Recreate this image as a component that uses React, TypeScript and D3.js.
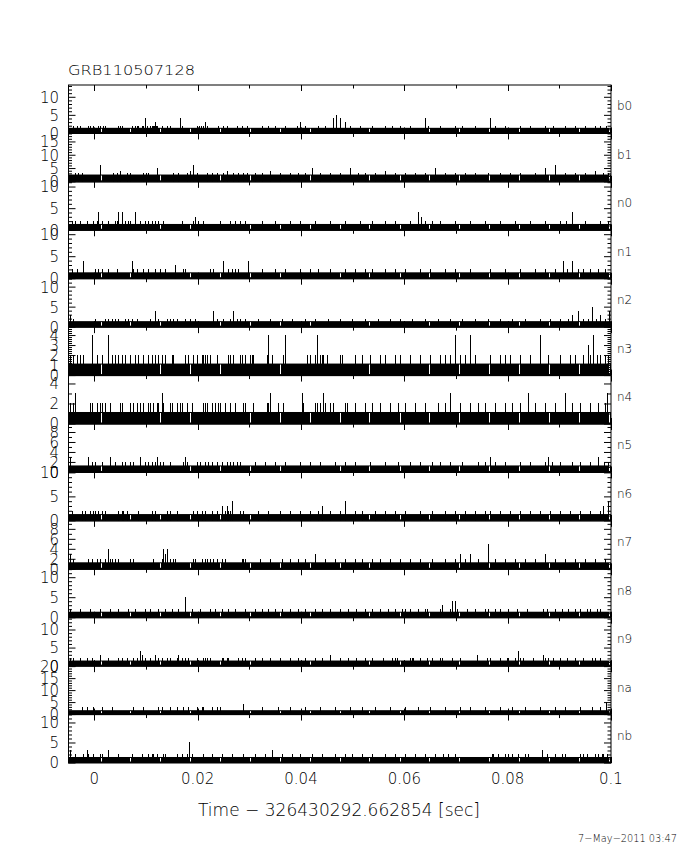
import * as d3 from "d3";

// GBM TTE count histograms, one panel per detector; times in ms after trigger
const detectors = ["b0", "b1", "n0", "n1", "n2", "n3", "n4", "n5", "n6", "n7", "n8", "n9", "na", "nb"];
const yMaxima = [13.4, 18.2, 11.2, 11.0, 12.1, 4.84, 4.84, 9.7, 10.1, 9.7, 12.1, 13.4, 20.2, 12.1];
const yMajorSteps = [5, 5, 5, 5, 5, 1, 2, 2, 5, 2, 5, 5, 5, 5];
const baseCounts = [1, 2, 1, 1, 1, 1, 1, 1, 1, 1, 1, 1, 1, 1];
const shortHeights = [2, 3, 2, 2, 2, 2, 2, 2, 2, 2, 2, 2, 3, 2];

const xTickValues = [0, 20, 40, 60, 80, 100];
const xTickLabels = ["0", "0.02", "0.04", "0.06", "0.08", "0.1"];
const bandGaps = [1.3, 6.9, 12.7, 18.5, 24.3, 30.1, 35.9, 41.7, 47.5, 53.2, 59.2, 64.8, 70.6, 76.4, 82.2, 88.0, 93.8, 99.6];

const b0Short = [-4.1, -3.3, -2.8, -1.2, -0.8, -0.3, 0.7, 1.1, 1.7, 2.1, 4.6, 5.0, 5.4, 7.3, 7.9, 8.3, 8.5, 9.2, 9.4, 10.2, 10.8, 11.2, 11.4, 11.6, 11.9, 12.1, 13.1, 14.1, 14.6, 17.0, 19.9, 20.3, 20.7, 21.0, 21.8, 23.9, 24.9, 25.7, 27.6, 28.6, 29.6, 32.4, 33.6, 34.9, 36.9, 39.2, 40.8, 43.3, 44.6, 49.5, 51.4, 53.8, 56.3, 57.6, 59.2, 61.1, 64.6, 66.9, 69.8, 71.2, 73.7, 77.6, 79.5, 82.4, 84.3, 87.2, 88.8, 91.1, 93.0, 95.0, 96.9, 97.9, 99.0];
const b0Tall: [number, number][] = [[9.8, 4], [11.7, 3], [16.6, 4], [21.4, 3], [39.8, 3], [46.2, 4], [46.8, 5], [47.5, 4], [48.5, 3], [64.0, 4], [76.6, 4]];

const b1Short = [-3.7, -3.2, -2.4, 3.6, 4.4, 6.3, 6.9, 9.4, 10.0, 10.4, 15.2, 16.2, 17.9, 19.9, 21.8, 22.8, 23.8, 24.9, 26.8, 27.8, 28.8, 29.6, 31.1, 32.4, 35.9, 37.9, 39.4, 40.8, 43.7, 45.6, 47.5, 51.0, 52.4, 54.3, 58.2, 60.1, 62.1, 64.0, 67.9, 69.8, 71.7, 73.7, 76.2, 78.5, 80.4, 82.4, 85.3, 91.1, 93.0, 95.0, 98.5, 99.4];
const b1Tall: [number, number][] = [[1.1, 6], [5.0, 4], [12.1, 5], [18.5, 4], [19.1, 6], [25.7, 4], [34.0, 4], [42.1, 5], [49.5, 5], [56.3, 4], [65.9, 5], [87.2, 5], [89.2, 6], [96.9, 4]];

const n0Short = [-4.3, -3.7, -2.8, -1.4, -0.3, 0.5, 1.5, 2.6, 4.0, 4.4, 5.9, 6.5, 6.9, 8.8, 9.8, 10.4, 11.2, 11.7, 12.3, 13.3, 17.0, 19.1, 20.1, 21.0, 24.3, 26.3, 27.2, 28.2, 29.2, 32.4, 34.9, 37.9, 39.8, 42.7, 45.6, 48.5, 51.4, 53.8, 56.3, 58.2, 61.1, 64.0, 65.4, 66.9, 69.8, 72.7, 75.6, 78.5, 81.4, 84.3, 87.2, 90.1, 91.3, 95.0, 97.9, 99.4];
const n0Tall: [number, number][] = [[0.7, 4], [4.6, 4], [5.4, 4], [7.9, 4], [19.5, 3], [62.6, 4], [63.2, 3], [92.4, 4]];

const n1Short = [-4.3, -3.3, 0.1, 0.7, 1.5, 2.6, 4.4, 7.5, 8.3, 9.4, 10.4, 11.7, 12.7, 13.7, 17.2, 17.6, 22.4, 23.0, 25.9, 26.7, 27.2, 27.8, 32.4, 34.9, 36.9, 39.8, 41.7, 43.3, 45.6, 48.5, 50.5, 52.4, 53.8, 56.3, 58.2, 60.1, 63.0, 65.0, 67.9, 69.8, 72.7, 76.6, 79.5, 82.4, 85.3, 87.2, 89.2, 91.5, 93.6, 94.6, 95.9, 97.5, 98.8];
const n1Tall: [number, number][] = [[-2.2, 4], [7.3, 4], [15.6, 3], [24.9, 4], [29.8, 4], [90.7, 4], [92.4, 4]];

const n2Short = [-4.1, 0.1, 2.1, 2.6, 3.4, 4.0, 4.6, 5.9, 6.5, 7.3, 8.3, 10.8, 12.3, 14.1, 14.6, 15.2, 16.0, 17.5, 18.5, 19.5, 23.8, 24.9, 26.3, 27.6, 28.2, 29.2, 31.7, 34.0, 36.3, 38.3, 40.8, 42.7, 45.2, 47.5, 49.9, 52.4, 54.9, 57.2, 59.2, 61.5, 64.0, 66.5, 68.8, 71.2, 73.7, 76.2, 78.5, 80.8, 83.4, 86.2, 88.2, 90.1, 91.7, 94.6, 95.5, 97.1, 98.8];
const n2Tall: [number, number][] = [[-4.7, 3], [11.7, 4], [23.0, 4], [26.9, 4], [92.4, 3], [93.6, 4], [96.3, 5], [97.9, 3], [99.6, 4]];

const n3Short = [-4.7, -4.1, -3.3, -2.8, -2.2, 0.5, 1.5, 3.4, 4.0, 4.6, 5.4, 5.9, 6.9, 7.9, 8.5, 9.4, 10.4, 11.2, 11.7, 12.3, 13.1, 13.7, 15.0, 15.2, 17.6, 18.1, 19.1, 19.9, 20.8, 21.0, 21.4, 21.8, 22.4, 23.8, 25.9, 26.3, 26.9, 28.2, 28.6, 29.2, 30.1, 30.5, 30.7, 33.4, 34.4, 36.5, 41.2, 41.7, 42.7, 43.7, 44.1, 44.3, 45.1, 47.5, 47.9, 50.5, 51.8, 53.4, 55.3, 56.3, 58.2, 59.2, 61.1, 63.0, 65.0, 66.9, 67.9, 68.8, 70.8, 71.7, 73.7, 76.6, 78.5, 79.5, 80.4, 82.4, 84.3, 87.8, 90.1, 92.1, 93.0, 94.6, 95.9, 97.3, 97.9, 98.8, 99.4];
const n3Tall: [number, number][] = [[-0.4, 4], [2.6, 4], [33.6, 4], [36.9, 4], [43.1, 4], [69.8, 4], [72.7, 4], [86.2, 4], [95.5, 3], [96.5, 4]];

const n4Short = [-4.7, -4.1, -0.8, -0.4, 0.5, 1.1, 1.5, 2.1, 3.0, 5.0, 5.4, 6.9, 7.5, 8.3, 8.8, 9.4, 10.4, 10.8, 11.4, 12.1, 12.3, 13.3, 14.6, 15.0, 16.0, 16.6, 17.0, 17.9, 18.9, 21.0, 21.4, 21.8, 22.8, 23.4, 23.9, 24.3, 25.3, 26.3, 27.2, 28.8, 29.2, 30.7, 33.4, 33.6, 35.6, 36.5, 40.4, 42.7, 43.1, 43.7, 44.6, 45.6, 46.2, 48.5, 48.9, 50.5, 52.4, 53.8, 55.3, 57.3, 58.8, 60.1, 62.1, 64.0, 66.5, 67.9, 70.8, 72.7, 74.3, 75.6, 77.6, 79.5, 80.8, 82.4, 85.3, 87.2, 89.2, 92.4, 94.0, 95.9, 97.5, 98.8];
const n4Tall: [number, number][] = [[-3.7, 3], [13.1, 3], [34.0, 3], [40.2, 3], [44.3, 3], [68.8, 3], [84.0, 3], [91.1, 3], [99.3, 3]];

const n5Short = [-0.4, 0.1, 1.5, 4.0, 5.4, 5.9, 6.9, 7.5, 9.8, 10.4, 11.2, 11.7, 12.7, 13.3, 14.6, 17.2, 17.9, 19.9, 20.5, 21.4, 22.0, 22.8, 23.8, 24.7, 25.7, 26.3, 26.9, 27.6, 28.2, 31.1, 33.0, 34.9, 36.9, 39.8, 41.7, 43.7, 46.6, 48.5, 50.5, 53.4, 56.3, 58.8, 61.1, 63.0, 65.4, 66.9, 68.8, 71.2, 74.3, 75.6, 77.6, 79.5, 82.4, 84.3, 87.2, 88.6, 90.1, 92.4, 94.0, 95.9, 98.7, 99.4];
const n5Tall: [number, number][] = [[-4.7, 3], [-1.2, 3], [3.0, 3], [8.8, 3], [12.1, 3], [17.6, 3], [76.6, 3], [87.8, 3], [97.5, 3]];

const n6Short = [-4.3, -2.4, -1.8, -0.8, -0.3, 0.1, 0.7, 1.5, 2.1, 4.6, 5.4, 5.6, 6.3, 8.5, 11.2, 11.7, 14.1, 14.6, 16.0, 19.1, 19.9, 20.8, 21.4, 22.8, 23.8, 25.3, 25.9, 26.3, 28.2, 28.8, 31.7, 33.6, 35.9, 37.9, 39.8, 41.7, 43.3, 45.6, 47.5, 50.5, 51.8, 54.3, 56.3, 58.2, 60.1, 63.0, 65.4, 67.9, 69.8, 71.7, 73.7, 75.6, 76.6, 78.5, 80.4, 82.4, 84.3, 86.2, 88.2, 90.1, 92.1, 94.0, 95.9, 97.9];
const n6Tall: [number, number][] = [[24.7, 3], [25.7, 3], [26.7, 4], [44.1, 3], [48.5, 4], [98.5, 3], [99.4, 4]];

const n7Short = [-4.1, -1.2, -0.4, 0.5, 1.1, 2.1, 3.0, 3.4, 4.0, 4.6, 6.9, 7.5, 11.4, 13.1, 14.6, 15.2, 15.6, 19.1, 19.5, 20.8, 21.4, 21.8, 22.4, 23.0, 23.8, 24.7, 25.3, 28.6, 28.8, 29.2, 32.1, 34.0, 36.3, 37.9, 39.4, 40.8, 44.6, 46.6, 48.5, 50.5, 51.8, 53.8, 55.3, 57.2, 59.2, 61.1, 63.0, 65.4, 67.9, 69.8, 71.7, 74.3, 77.6, 79.5, 81.4, 83.4, 85.3, 89.2, 91.1, 93.0, 95.0, 96.9, 98.8];
const n7Tall: [number, number][] = [[-4.7, 3], [2.7, 4], [13.3, 4], [13.7, 3], [14.1, 4], [42.7, 3], [70.8, 3], [72.7, 3], [76.2, 5], [87.2, 3]];

const n8Short = [-4.7, -2.8, -0.8, 1.1, 3.0, 4.6, 6.5, 7.9, 9.8, 10.8, 12.3, 13.7, 15.0, 16.2, 18.9, 20.5, 22.4, 23.4, 24.7, 25.9, 27.2, 29.2, 31.1, 32.4, 33.6, 34.9, 36.3, 37.9, 39.4, 40.8, 42.7, 44.1, 45.6, 47.5, 49.1, 50.7, 52.4, 53.8, 55.3, 56.9, 58.2, 59.6, 60.1, 61.1, 62.6, 64.0, 64.4, 66.9, 68.8, 70.2, 72.1, 73.7, 75.6, 76.2, 77.6, 78.5, 80.1, 81.9, 83.8, 86.9, 87.6, 89.2, 90.5, 91.7, 93.0, 94.0, 95.4, 95.9, 97.3, 97.9];
const n8Tall: [number, number][] = [[17.6, 5], [67.3, 3], [69.2, 4], [69.8, 4]];

const n9Short = [-4.7, -4.1, -2.8, -1.4, -0.4, 2.6, 4.6, 5.4, 6.3, 7.5, 8.3, 9.8, 10.8, 12.3, 13.1, 14.1, 14.6, 16.0, 17.0, 17.6, 18.1, 19.9, 21.0, 21.4, 21.8, 22.4, 24.7, 24.9, 25.7, 25.9, 27.8, 28.6, 29.2, 31.1, 32.4, 34.0, 35.9, 37.9, 39.4, 40.8, 42.7, 44.1, 47.5, 49.1, 50.7, 52.4, 53.8, 55.9, 57.6, 58.2, 58.6, 61.1, 61.5, 61.7, 63.0, 64.4, 65.4, 66.9, 67.3, 69.2, 70.8, 76.0, 76.6, 78.5, 79.9, 80.1, 81.4, 82.4, 83.0, 84.9, 87.2, 87.8, 88.8, 90.1, 91.5, 93.0, 94.6, 96.3, 96.9, 97.9];
const n9Tall: [number, number][] = [[1.1, 3], [8.8, 4], [9.2, 3], [11.7, 3], [16.2, 3], [45.6, 3], [74.1, 3], [82.0, 4], [86.9, 3]];

const naShort = [-2.4, -1.4, -0.3, 1.5, 3.4, 7.5, 9.4, 12.3, 13.1, 14.6, 16.0, 17.2, 18.1, 19.9, 20.8, 21.0, 22.8, 23.8, 24.3, 32.4, 35.6, 37.9, 40.8, 43.7, 46.6, 49.5, 51.8, 54.3, 57.2, 60.1, 62.6, 65.0, 67.9, 70.8, 72.7, 75.6, 78.5, 80.8, 83.4, 86.2, 89.2, 91.1, 94.0, 96.3, 97.9];
const naTall: [number, number][] = [[28.8, 4], [99.0, 5]];

const nbShort = [-3.7, -2.2, -1.2, -0.3, 1.1, 1.5, 4.6, 7.3, 9.2, 10.4, 11.2, 11.4, 12.1, 13.3, 13.7, 16.0, 17.0, 17.9, 18.9, 21.0, 22.8, 24.7, 26.7, 28.8, 31.1, 33.0, 36.3, 38.2, 39.8, 42.1, 44.1, 46.6, 48.5, 49.9, 51.8, 53.8, 56.3, 58.2, 60.1, 62.1, 64.0, 65.9, 67.5, 68.5, 69.8, 76.9, 77.1, 78.1, 79.5, 80.1, 80.9, 82.0, 83.4, 84.0, 87.6, 89.2, 90.5, 91.1, 94.0, 94.6, 95.4, 96.9, 97.5, 98.3, 98.5, 99.2];
const nbTall: [number, number][] = [[-4.7, 3], [-1.4, 3], [2.6, 3], [18.3, 5], [34.4, 3], [86.7, 3]];

const shortSpikes = [b0Short, b1Short, n0Short, n1Short, n2Short, n3Short, n4Short, n5Short, n6Short, n7Short, n8Short, n9Short, naShort, nbShort];
const tallSpikes = [b0Tall, b1Tall, n0Tall, n1Tall, n2Tall, n3Tall, n4Tall, n5Tall, n6Tall, n7Tall, n8Tall, n9Tall, naTall, nbTall];

const font = "'DejaVu Sans', sans-serif";
const fontWeight = 200;
const plotLeft = 68.5;
const plotRight = 611;
const x = d3.scaleLinear().domain([-5, 100]).range([plotLeft, plotRight]);
const panelTop = d3.scaleLinear().domain([0, detectors.length]).range([85, 763]);
const xMinorTicks = d3.range(0, 101, 10);

function DetectorPanel({ index }: { readonly index: number }) {
  const top = panelTop(index);
  const bottom = panelTop(index + 1);
  const yMax = yMaxima[index];
  const y = d3.scaleLinear().domain([0, yMax]).range([bottom, top]);
  const major = yMajorSteps[index];
  const minor = major === 1 ? 0.2 : 1;
  const yTicks = d3.range(0, yMax + 1e-6, minor).map((v) => Math.round(v * 100) / 100);
  const isMajor = (v: number) => Math.abs(v / major - Math.round(v / major)) < 1e-6;
  const base = baseCounts[index];
  const shortH = shortHeights[index];
  const spikes: [number, number][] = [
    ...shortSpikes[index].map((t) => [t, shortH] as [number, number]),
    ...tallSpikes[index]
  ];

  return (
    <g>
      <rect
        x={plotLeft}
        y={y(base) - 2}
        width={plotRight - plotLeft}
        height={y(0) - y(base) + 2}
        fill="#000"
      />
      {bandGaps.map((t) => (
        <line
          key={`gap${t}`}
          x1={Math.round(x(t)) + 0.5}
          x2={Math.round(x(t)) + 0.5}
          y1={y(base) - 1}
          y2={y(0) - 1.5}
          stroke="#fff"
          strokeWidth={1}
        />
      ))}
      {spikes.map(([t, h], i) => (
        <rect
          key={`s${i}`}
          x={Math.round(x(t))}
          y={y(h) - 0.5}
          width={1}
          height={y(0) - y(h) + 0.5}
          fill="#000"
          shapeRendering="crispEdges"
        />
      ))}
      <rect
        x={plotLeft}
        y={top}
        width={plotRight - plotLeft}
        height={bottom - top}
        fill="none"
        stroke="#000"
        strokeWidth={1}
      />
      {xMinorTicks.map((t) => {
        const len = t % 20 === 0 ? 6 : 3.5;
        const px = Math.round(x(t)) + 0.5;
        return (
          <g key={`xt${t}`} stroke="#000" strokeWidth={1}>
            <line x1={px} x2={px} y1={top} y2={top + len} />
            <line x1={px} x2={px} y1={bottom} y2={bottom - len} />
          </g>
        );
      })}
      {yTicks.map((v) => {
        const len = isMajor(v) ? 7 : 3.5;
        const py = y(v);
        return (
          <g key={`yt${v}`} stroke="#000" strokeWidth={1}>
            <line x1={plotLeft} x2={plotLeft + len} y1={py} y2={py} />
            <line x1={plotRight} x2={plotRight - len} y1={py} y2={py} />
          </g>
        );
      })}
      {yTicks.filter(isMajor).map((v) => (
        <text
          key={`yl${v}`}
          x={59}
          y={y(v)}
          dy="0.36em"
          textAnchor="end"
          fontFamily={font}
          fontWeight={fontWeight}
          fontSize={15}
          fill="#000"
        >
          {v}
        </text>
      ))}
      <text
        x={617}
        y={(top + bottom) / 2}
        dy="0.1em"
        fontFamily={font}
        fontWeight={fontWeight}
        fontSize={12}
        fill="#000"
      >
        {detectors[index]}
      </text>
    </g>
  );
}

export default function App() {
  return (
    <svg
      width={680}
      height={850}
      viewBox="0 0 680 850"
      style={{ position: "absolute", left: 0, top: 0, background: "#fff" }}
    >
      <rect width={680} height={850} fill="#fff" />
      <text x={68} y={75} fontFamily={font} fontWeight={fontWeight} fontSize={14} textLength={127} lengthAdjust="spacingAndGlyphs" fill="#000">
        GRB110507128
      </text>
      {detectors.map((d, i) => (
        <DetectorPanel key={d} index={i} />
      ))}
      {xTickValues.map((t, i) => (
        <text
          key={`xl${t}`}
          x={x(t)}
          y={784}
          textAnchor="middle"
          fontFamily={font}
          fontWeight={fontWeight}
          fontSize={15}
          fill="#000"
        >
          {xTickLabels[i]}
        </text>
      ))}
      <text x={198} y={816} fontFamily={font} fontWeight={fontWeight} fontSize={17} textLength={282} lengthAdjust="spacingAndGlyphs" fill="#000">
        Time − 326430292.662854 [sec]
      </text>
      <text x={578} y={842} fontFamily={font} fontWeight={fontWeight} fontSize={10} textLength={99} lengthAdjust="spacingAndGlyphs" fill="#000">
        7−May−2011 03:47
      </text>
    </svg>
  );
}
